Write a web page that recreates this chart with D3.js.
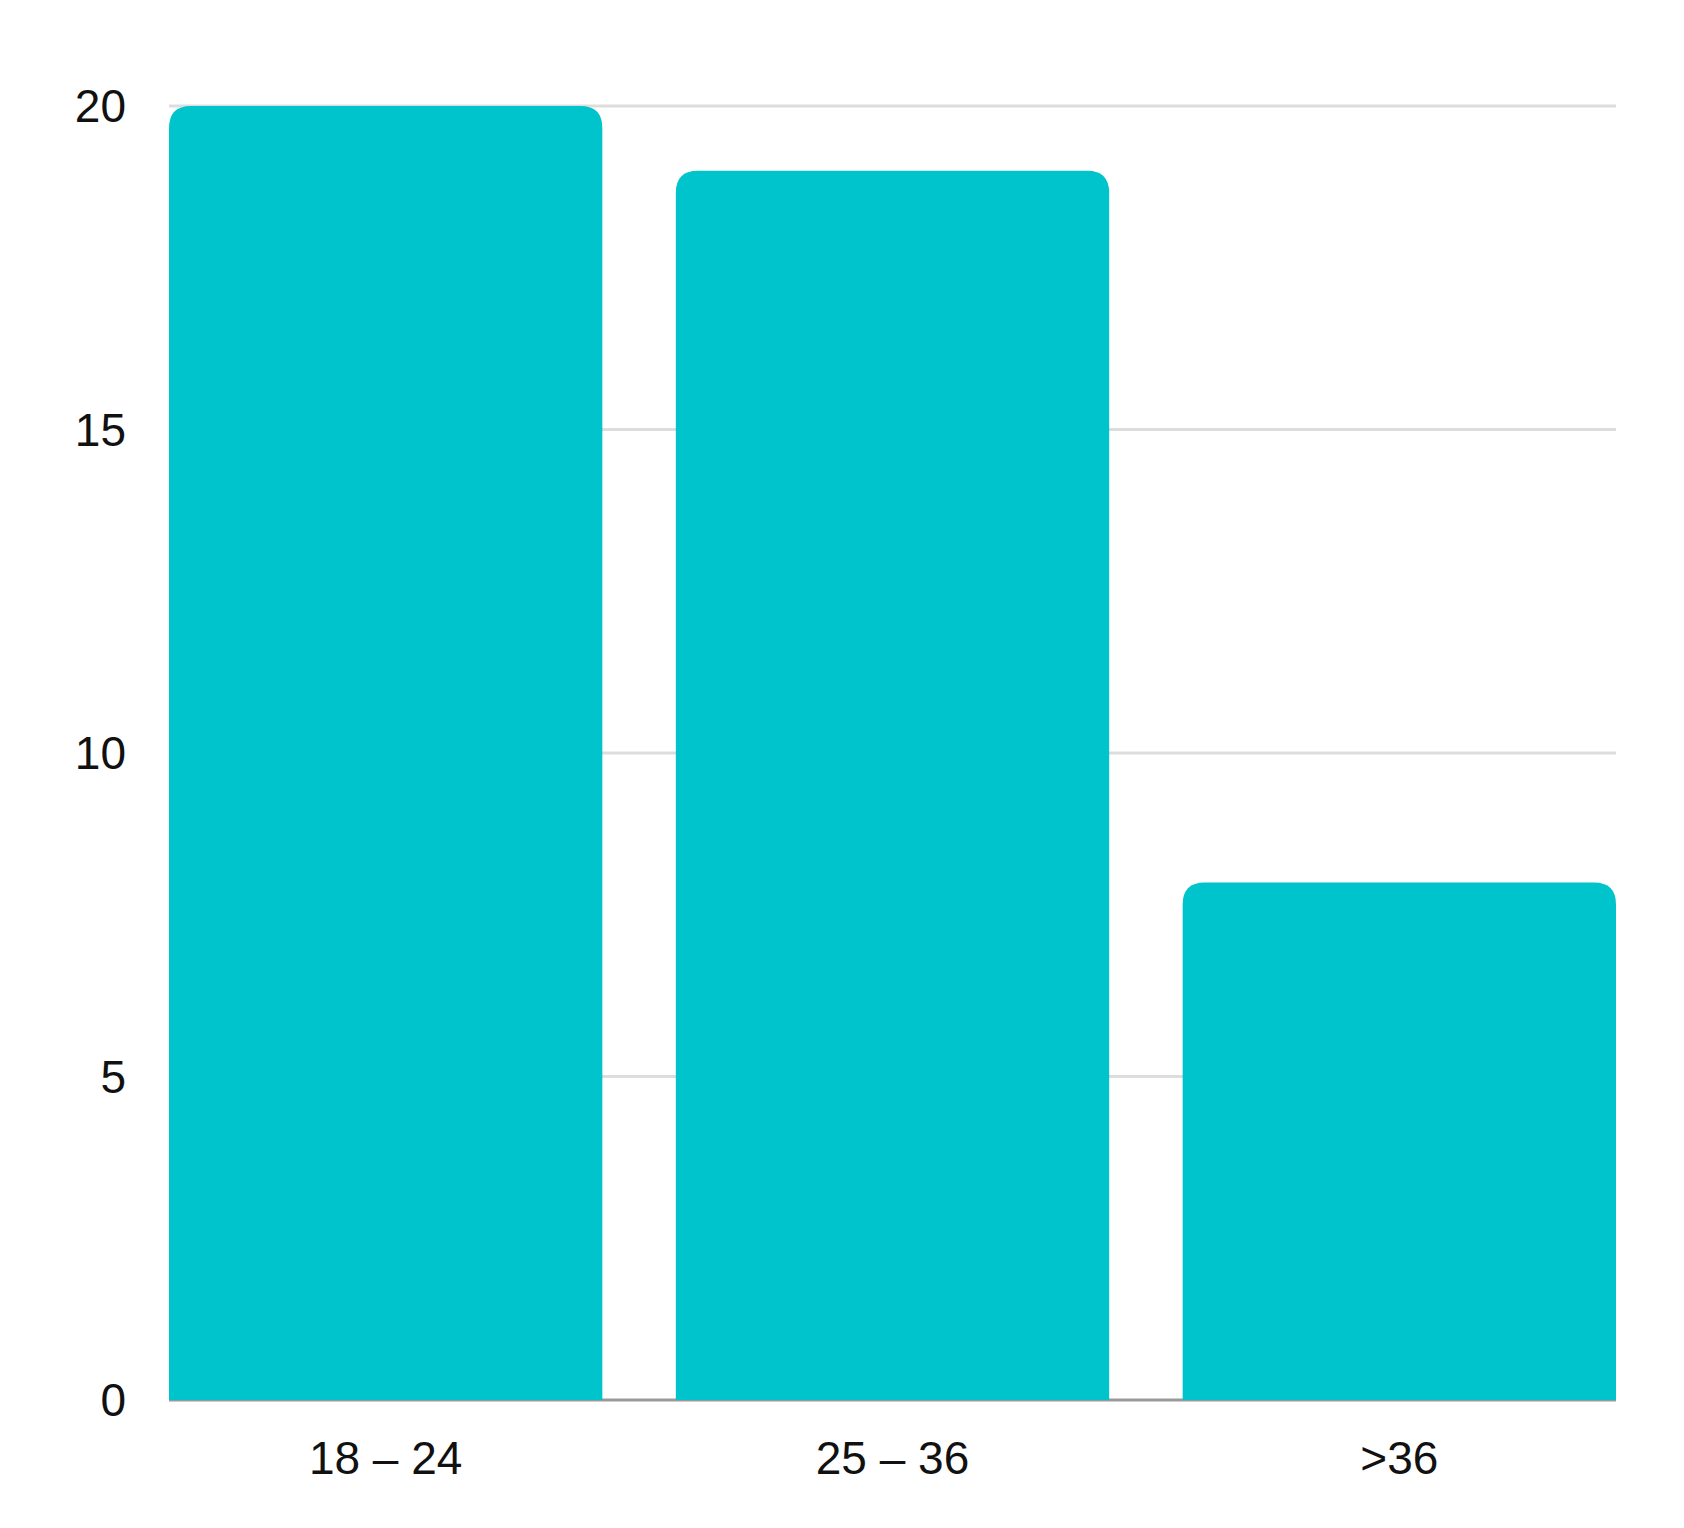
<!DOCTYPE html>
<html><head><meta charset="utf-8">
<script src="https://cdn.jsdelivr.net/npm/d3@7"></script>
<style>body{margin:0;background:#fff}</style></head>
<body><svg id="c" width="1684" height="1528"></svg>
<script>
const categories = ["18 – 24", "25 – 36", ">36"];
const values = [20, 19, 8];
const yTicks = [0, 5, 10, 15, 20];

const svg = d3.select("#c");
const m = {l:169, r:68, t:106, b:128};
const W = 1684, H = 1528;
const x = d3.scaleBand().domain(categories).range([m.l, W - m.r]).paddingInner(0.145).paddingOuter(0);
const y = d3.scaleLinear().domain([0, 20]).range([H - m.b, m.t]);
const font = "'Liberation Sans', Arial, sans-serif";

svg.append("g").selectAll("line").data(yTicks.filter(d=>d>0)).join("line")
  .attr("x1", m.l).attr("x2", W - m.r).attr("y1", d=>y(d)).attr("y2", d=>y(d))
  .attr("stroke", "#dddddd").attr("stroke-width", 3);
svg.append("line").attr("x1", m.l).attr("x2", W - m.r).attr("y1", y(0)).attr("y2", y(0))
  .attr("stroke", "#999").attr("stroke-width", 3);

const r = 22;
svg.append("g").selectAll("path").data(values).join("path")
  .attr("fill", "#00c4cb")
  .attr("d", (d,i) => {
    const x0 = x(categories[i]), x1 = x0 + x.bandwidth(), y0 = y(0), y1 = y(d);
    return `M${x0},${y0}V${y1+r}Q${x0},${y1} ${x0+r},${y1}H${x1-r}Q${x1},${y1} ${x1},${y1+r}V${y0}Z`;
  });

svg.append("g").selectAll("text").data(yTicks).join("text")
  .attr("x", 126).attr("y", d=>y(d)).attr("dy", "0.35em").attr("text-anchor", "end")
  .attr("font-family", font).attr("font-size", 46).attr("fill", "#111").text(d=>d);

svg.append("g").selectAll("text").data(categories).join("text")
  .attr("x", d=>x(d)+x.bandwidth()/2).attr("y", H - m.b + 74).attr("text-anchor", "middle")
  .attr("font-family", font).attr("font-size", 46).attr("fill", "#111").text(d=>d);
</script></body></html>
